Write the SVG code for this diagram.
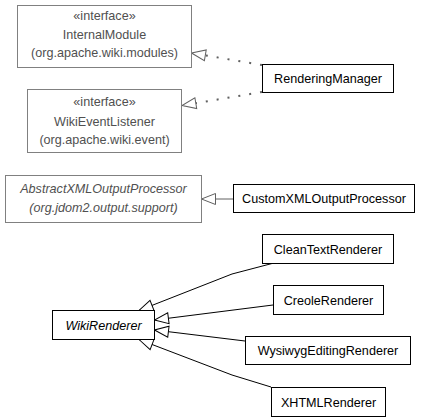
<svg xmlns="http://www.w3.org/2000/svg" width="429" height="420" viewBox="0 0 429 420">
<defs>
<style>
.box{fill:#fff;stroke:#000;stroke-width:1;shape-rendering:crispEdges}
.ext{fill:#fff;stroke:#808080;stroke-width:1;shape-rendering:crispEdges}
text{font-family:"Liberation Sans",Arial,sans-serif;font-size:12.6px;text-anchor:middle}
.t{fill:#000}
.g{fill:#505050}
.i{font-style:italic}
.solid{fill:none;stroke:#000;stroke-width:1}
.gray{fill:none;stroke:#606060;stroke-width:1}
.dot{fill:none;stroke:#606060;stroke-width:2;stroke-dasharray:2 9}
</style>
<marker id="hb" markerUnits="userSpaceOnUse" markerWidth="17" markerHeight="14" viewBox="0 0 17 14" refX="15.5" refY="7" orient="auto">
<path d="M15.5,7 L1.5,1.5 L1.5,12.5 Z" fill="#fff" stroke="#000" stroke-width="1"/>
</marker>
<marker id="hg" markerUnits="userSpaceOnUse" markerWidth="17" markerHeight="14" viewBox="0 0 17 14" refX="15.5" refY="7" orient="auto">
<path d="M15.5,7 L1.5,1.5 L1.5,12.5 Z" fill="#fff" stroke="#606060" stroke-width="1" stroke-dasharray="none"/>
</marker>
</defs>
<rect width="429" height="420" fill="#fff"/>
<g id="connectors">
<path class="dot" d="M262,65 L191.5,53" marker-end="url(#hg)"/>
<path class="dot" d="M262,92 L182,105.5" marker-end="url(#hg)"/>
<path class="gray" d="M233,199 L201.5,199" marker-end="url(#hg)"/>
<path class="solid" d="M272,263.5 L232,274 L139,310.5" marker-end="url(#hb)"/>
<path class="solid" d="M273,305 L154.5,320" marker-end="url(#hb)"/>
<path class="solid" d="M245,341 L154.5,330" marker-end="url(#hb)"/>
<path class="solid" d="M271,387 L232,375 L139,339.5" marker-end="url(#hb)"/>
</g>
<g id="InternalModule">
<rect class="ext" x="17.5" y="5.5" width="174" height="62"/>
<text class="g" x="104.5" y="20">«interface»</text>
<text class="g" x="104.5" y="39">InternalModule</text>
<text class="g" x="104.5" y="57">(org.apache.wiki.modules)</text>
</g>
<g id="WikiEventListener">
<rect class="ext" x="27.5" y="89.5" width="154" height="63"/>
<text class="g" x="104.5" y="106">«interface»</text>
<text class="g" x="104.5" y="126">WikiEventListener</text>
<text class="g" x="104.5" y="144">(org.apache.wiki.event)</text>
</g>
<g id="RenderingManager">
<rect class="box" x="262.5" y="64.5" width="131" height="28"/>
<text class="t" x="328" y="83">RenderingManager</text>
</g>
<g id="AbstractXMLOutputProcessor">
<rect class="ext" x="5.5" y="175.5" width="196" height="47"/>
<text class="g i" x="103.5" y="193">AbstractXMLOutputProcessor</text>
<text class="g i" x="103.5" y="212">(org.jdom2.output.support)</text>
</g>
<g id="CustomXMLOutputProcessor">
<rect class="box" x="233.5" y="184.5" width="181" height="28"/>
<text class="t" x="324" y="203">CustomXMLOutputProcessor</text>
</g>
<g id="CleanTextRenderer">
<rect class="box" x="262.5" y="234.5" width="131" height="29"/>
<text class="t" x="328" y="253.5">CleanTextRenderer</text>
</g>
<g id="CreoleRenderer">
<rect class="box" x="273.5" y="285.5" width="110" height="29"/>
<text class="t" x="328.5" y="304.5">CreoleRenderer</text>
</g>
<g id="WysiwygEditingRenderer">
<rect class="box" x="245.5" y="336.5" width="165" height="28"/>
<text class="t" x="328" y="355">WysiwygEditingRenderer</text>
</g>
<g id="XHTMLRenderer">
<rect class="box" x="271.5" y="387.5" width="114" height="29"/>
<text class="t" x="328.5" y="406.5">XHTMLRenderer</text>
</g>
<g id="WikiRenderer">
<rect class="box" x="52.5" y="310.5" width="102" height="29"/>
<text class="t i" x="103.5" y="329.5">WikiRenderer</text>
</g>
</svg>
